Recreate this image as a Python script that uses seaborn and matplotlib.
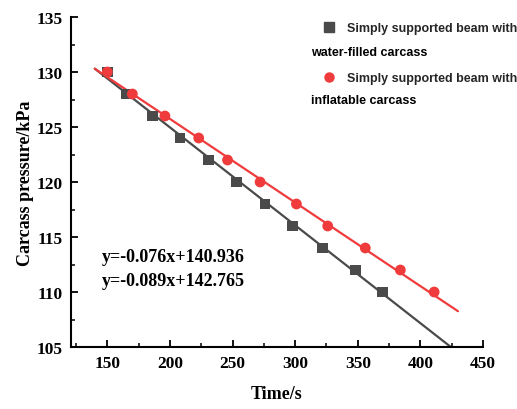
import numpy as np
import pandas as pd
import matplotlib
matplotlib.use("Agg")
import matplotlib.pyplot as plt
import seaborn as sns
from matplotlib.ticker import MultipleLocator
from matplotlib.lines import Line2D

# ---- data ----
water_time = [150, 165, 186, 208, 231, 253, 276, 298, 322, 348, 370]
water_pressure = [130, 128, 126, 124, 122, 120, 118, 116, 114, 112, 110]
air_time = [150, 170, 196, 223, 246, 272, 301, 326, 356, 384, 411]
air_pressure = [130, 128, 126, 124, 122, 120, 118, 116, 114, 112, 110]

series_names = ["Simply supported beam with water-filled carcass",
                "Simply supported beam with inflatable carcass"]
fit_slope = [-0.089, -0.076]
fit_intercept = [142.765, 140.936]
fit_x_start = [140, 140]
fit_x_end = [425, 430]
equations = ["y=-0.076x+140.936", "y=-0.089x+142.765"]

colors = ["#4a4a4a", "#ef3b3b"]
markers = ["s", "o"]

sns.set_theme(style="ticks")
plt.rcParams['font.family'] = ['Liberation Serif', 'DejaVu Serif']
plt.rcParams['font.weight'] = 'bold'
plt.rcParams['xtick.direction'] = 'in'
plt.rcParams['ytick.direction'] = 'in'

fig = plt.figure(figsize=(5.17, 4.10), dpi=100)
ax = fig.add_axes([71/517, 1-348/410, (483-71)/517, (348-18)/410])

df = pd.concat([
    pd.DataFrame({"Time": water_time, "Pressure": water_pressure, "Series": series_names[0]}),
    pd.DataFrame({"Time": air_time, "Pressure": air_pressure, "Series": series_names[1]}),
])

fit_rows = []
for name, m, b, x0, x1 in zip(series_names, fit_slope, fit_intercept, fit_x_start, fit_x_end):
    xs = np.array([x0, x1], dtype=float)
    fit_rows.append(pd.DataFrame({"Time": xs, "Pressure": m * xs + b, "Series": name}))
fit_df = pd.concat(fit_rows)

palette = dict(zip(series_names, colors))
sns.lineplot(data=fit_df, x="Time", y="Pressure", hue="Series", palette=palette,
             linewidth=1.6, legend=False, ax=ax, zorder=2)
sns.scatterplot(data=df, x="Time", y="Pressure", hue="Series", style="Series",
                palette=palette, markers=dict(zip(series_names, markers)),
                s=60, edgecolor="none", legend=False, ax=ax, zorder=3)

ax.set_xlim(121, 450)
ax.set_ylim(105, 135)
ax.xaxis.set_major_locator(MultipleLocator(50))
ax.xaxis.set_minor_locator(MultipleLocator(25))
ax.yaxis.set_major_locator(MultipleLocator(5))
ax.yaxis.set_minor_locator(MultipleLocator(2.5))
ax.tick_params(which="major", direction="in", length=5, width=1.3, labelsize=12.5, pad=6, color="black")
ax.tick_params(which="minor", direction="in", length=3, width=1.1, color="black")
for lab in ax.get_xticklabels() + ax.get_yticklabels():
    lab.set_fontweight("bold")
    lab.set_color("black")
sns.despine(ax=ax)
for sp in ["left", "bottom"]:
    ax.spines[sp].set_linewidth(1.5)
    ax.spines[sp].set_color("black")

ax.set_xlabel("Time/s", fontsize=13, fontweight="bold", labelpad=10, color="black")
ax.set_ylabel("Carcass pressure/kPa", fontsize=13, fontweight="bold", labelpad=2, color="black")

ax.text(102/517, 1-258/410, equations[0], transform=fig.transFigure, fontsize=13,
        fontweight="bold", va="center", ha="left", color="black")
ax.text(102/517, 1-281/410, equations[1], transform=fig.transFigure, fontsize=13,
        fontweight="bold", va="center", ha="left", color="black")

# legend (first line of each label via legend, continuation as text)
handles = [Line2D([], [], marker=mk, linestyle="none", color=c, markersize=6.5)
           for mk, c in zip(markers, colors)]
first_lines = [n.split(" with ")[0] + " with" for n in series_names]
second_lines = [n.split(" with ")[1] for n in series_names]
leg = fig.legend(handles, first_lines, loc="upper left",
                 bbox_to_anchor=(323/517, 1-23/410), frameon=False,
                 prop={"family": "Liberation Sans", "weight": "bold", "size": 9},
                 handlelength=1.0, handletextpad=0.9, labelspacing=3.05,
                 borderpad=0, borderaxespad=0)
for i, t in enumerate(second_lines):
    fig.text(311/517, 1-(53 + 48*i)/410, t, family="Liberation Sans", weight="bold",
             fontsize=9, va="center", ha="left", color="black")

fig.savefig("out.png", dpi=100)
